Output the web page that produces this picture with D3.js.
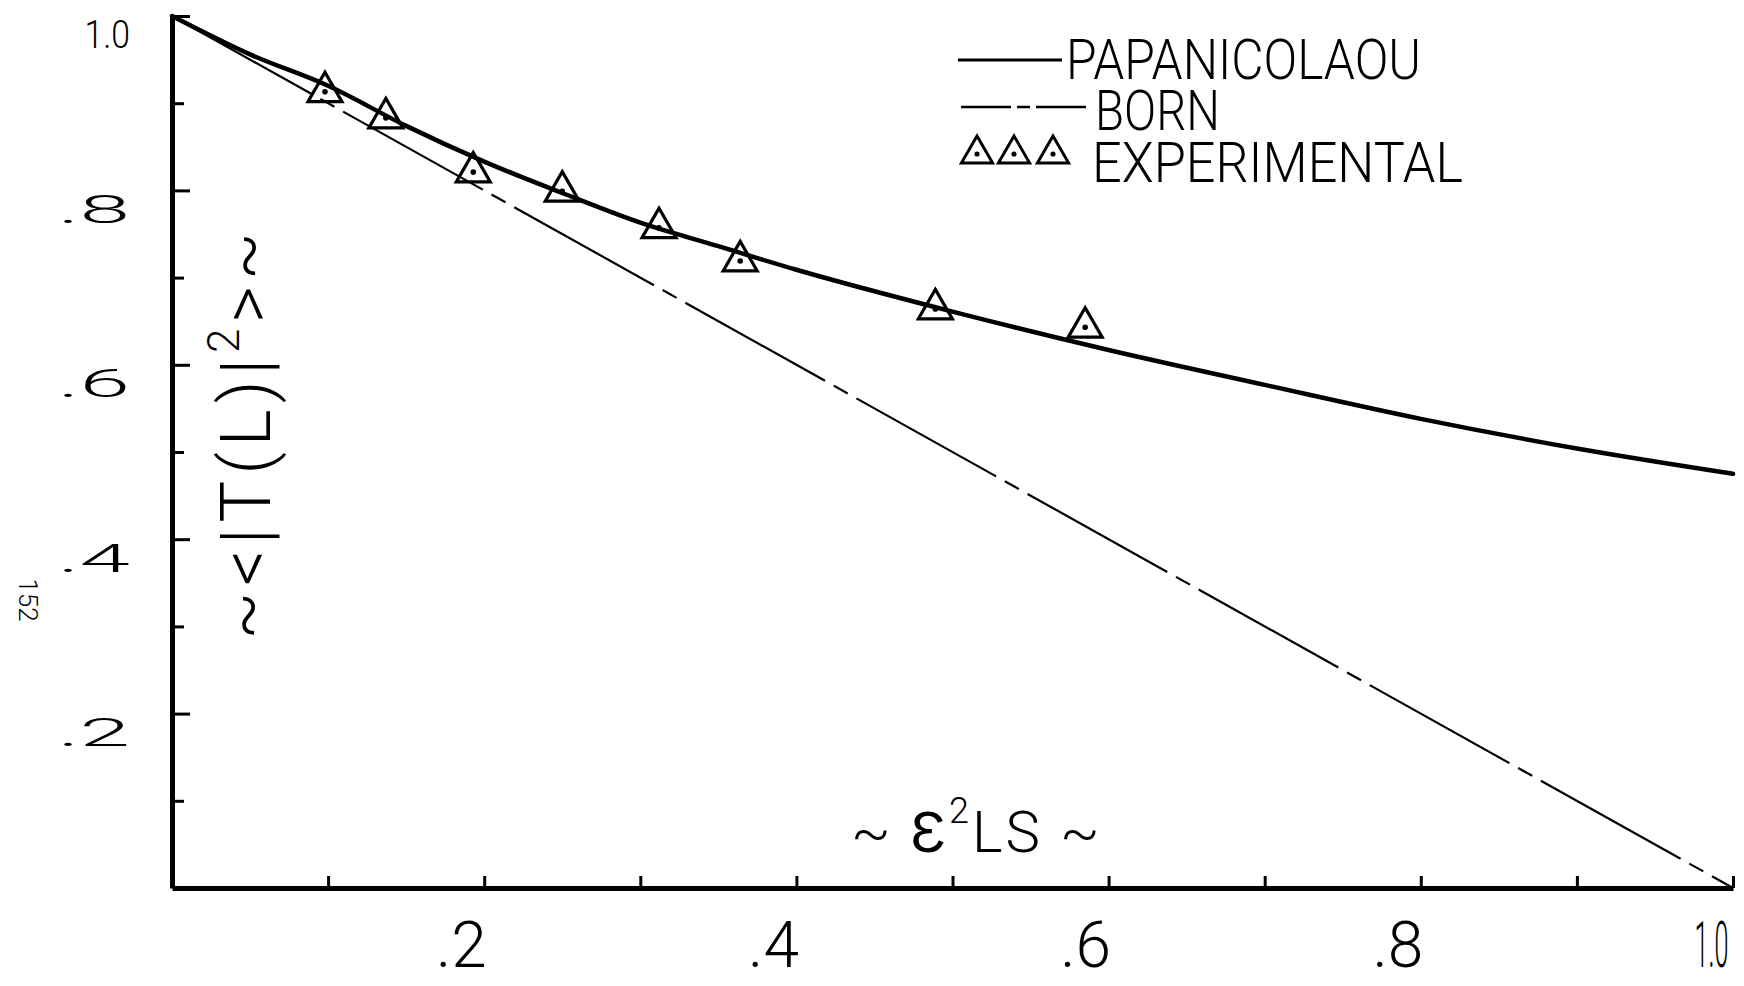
<!DOCTYPE html>
<html>
<head>
<meta charset="utf-8">
<title>Transmission vs epsilon^2 LS</title>
<script src="https://cdn.jsdelivr.net/npm/d3@7"></script>
<style>
  html, body { margin: 0; padding: 0; background: #fff; }
  svg { display: block; background: #fff; }
  text { font-family: Roboto, "Liberation Sans", "DejaVu Sans", sans-serif; font-weight: 300; fill: #000; }
</style>
</head>
<body>
<div id="chart"></div>
<script>

// Papanicolaou theory curve
const pap_x = [0, 0.05, 0.1, 0.15, 0.2, 0.25, 0.3, 0.35, 0.4, 0.5, 0.6, 0.7, 0.8, 0.9, 1.0];
const pap_y = [1.0, 0.956, 0.92, 0.874, 0.833, 0.797, 0.763, 0.736, 0.709, 0.661, 0.617, 0.577, 0.538, 0.504, 0.475];

// Born approximation
const born_x = [0, 1.0];
const born_y = [1.0, 0];

// experimental points
const exp_x = [0.098, 0.137, 0.193, 0.250, 0.312, 0.364, 0.489, 0.585];
const exp_y = [0.913, 0.883, 0.821, 0.799, 0.757, 0.719, 0.664, 0.643];

// axes
const tick_values = [0.1, 0.2, 0.3, 0.4, 0.5, 0.6, 0.7, 0.8, 0.9, 1.0];
const x_label_values = [0.2, 0.4, 0.6, 0.8, 1.0];
const x_tick_labels = [".2", ".4", ".6", ".8", "1.0"];
const y_label_values = [1.0, 0.8, 0.6, 0.4, 0.2];
const y_tick_labels = ["1.0", ".8", ".6", ".4", ".2"];

const series_names = ["PAPANICOLAOU", "BORN", "EXPERIMENTAL"];


const width = 1744;
const height = 986;
const margin = {"top": 16, "right": 11, "bottom": 98, "left": 172};

const svg = d3.select("#chart")
  .append("svg")
  .attr("width", width)
  .attr("height", height)
  .attr("viewBox", [0, 0, width, height]);

const x = d3.scaleLinear()
  .domain([0, 1])
  .range([margin.left, width - margin.right]);

const y = d3.scaleLinear()
  .domain([0, 1])
  .range([height - margin.bottom, margin.top]);

function label_for(values, labels) {
  return d => {
    const i = values.findIndex(v => Math.abs(v - d) < 1e-9);
    return i < 0 ? "" : labels[i];
  };
}

// x axis, ticks point inwards
svg.append("g")
  .attr("transform", `translate(0,${height - margin.bottom})`)
  .call(d3.axisBottom(x)
    .tickValues(tick_values)
    .tickSize(-12)
    .tickSizeOuter(0)
    .tickPadding(34)
    .tickFormat(label_for(x_label_values, x_tick_labels)))
  .call(g => g.attr("font-family", null).attr("font-size", 64))
  .call(g => g.select(".domain").attr("stroke-width", 5))
  .call(g => g.selectAll(".tick line").attr("stroke-width", 3))
  .call(g => g.selectAll(".tick text")
    .attr("text-anchor", "end")
    .attr("x", 2)
    .filter(d => label_for(x_label_values, x_tick_labels)(d) === "1.0")
    .attr("x", -5)
    .attr("textLength", 34)
    .attr("lengthAdjust", "spacingAndGlyphs"));

// y axis, labels squat and sitting a little below their ticks
svg.append("g")
  .attr("transform", `translate(${margin.left},0)`)
  .call(d3.axisLeft(y)
    .tickValues(tick_values)
    .tickSize(-12)
    .tickSizeOuter(0)
    .tickFormat(label_for(y_label_values, y_tick_labels)))
  .call(g => g.attr("font-family", null).attr("font-size", 70))
  .call(g => g.select(".domain").attr("stroke-width", 5))
  .call(g => g.selectAll(".tick line")
    .attr("stroke-width", 3)
    .attr("x2", d => y_label_values.some(v => Math.abs(v - d) < 1e-9) ? 18 : 12))
  .call(g => g.selectAll(".tick text")
    .attr("x", 0)
    .attr("dy", "0.36em")
    .attr("font-weight", 400)
    .attr("transform", "translate(-42,18) scale(1.3,0.55)")
    .filter(d => label_for(y_label_values, y_tick_labels)(d) === "1.0")
    .attr("textLength", 35)
    .attr("lengthAdjust", "spacingAndGlyphs"));

// curves
const line = d3.line()
  .x(d => x(d[0]))
  .y(d => y(d[1]));

svg.append("path")
  .datum(d3.zip(born_x, born_y))
  .attr("d", line)
  .attr("fill", "none")
  .attr("stroke", "#000")
  .attr("stroke-width", 2.2)
  .attr("stroke-dasharray", "160 10 16 10");

svg.append("path")
  .datum(d3.zip(pap_x, pap_y))
  .attr("d", line.curve(d3.curveMonotoneX))
  .attr("fill", "none")
  .attr("stroke", "#000")
  .attr("stroke-width", 4.5)
  .attr("stroke-linecap", "round")
  .attr("stroke-linejoin", "round");

// experimental triangles with a dot in the middle
const triangle = d3.symbol(d3.symbolTriangle, 500);

function draw_marker(g) {
  g.append("path")
    .attr("d", triangle)
    .attr("fill", "none")
    .attr("stroke", "#000")
    .attr("stroke-width", 3.2)
    .attr("stroke-linejoin", "miter");
  g.append("circle")
    .attr("r", 2.8)
    .attr("fill", "#000");
}

svg.append("g")
  .selectAll("g")
  .data(d3.zip(exp_x, exp_y))
  .join("g")
    .attr("transform", d => `translate(${x(d[0])},${y(d[1])})`)
    .each(function() { draw_marker(d3.select(this)); });

// legend
const legend = svg.append("g");

legend.append("line")
  .attr("x1", 958).attr("x2", 1062)
  .attr("y1", 60).attr("y2", 60)
  .attr("stroke", "#000")
  .attr("stroke-width", 3);

legend.append("line")
  .attr("x1", 961).attr("x2", 1090)
  .attr("y1", 107).attr("y2", 107)
  .attr("stroke", "#000")
  .attr("stroke-width", 2.5)
  .attr("stroke-dasharray", "50 6 13 6");

legend.selectAll("g.mk")
  .data([977, 1014, 1053])
  .join("g")
    .attr("class", "mk")
    .attr("transform", d => `translate(${d},154) scale(0.92)`)
    .each(function() { draw_marker(d3.select(this)); });

legend.selectAll("text")
  .data(series_names)
  .join("text")
    .attr("x", (d, i) => [1066, 1095, 1092][i])
    .attr("y", (d, i) => [79, 130, 182][i])
    .attr("font-size", 56)
    .attr("textLength", (d, i) => [355, 125, 371][i])
    .attr("lengthAdjust", "spacingAndGlyphs")
    .text(d => d);

// axis titles
const y_title = svg.append("text")
  .attr("transform", "translate(270,433) rotate(-90)")
  .attr("text-anchor", "middle")
  .attr("font-size", 70)
  .attr("letter-spacing", 6);
y_title.append("tspan").text("~<|T(L)|");
y_title.append("tspan").attr("font-size", 44).attr("dy", "-0.7em").text("2");
y_title.append("tspan").attr("dy", "0.45em").text(">~");

const x_title = svg.append("text")
  .attr("x", 851)
  .attr("y", 852)
  .attr("font-size", 58)
  .attr("letter-spacing", 3);
x_title.append("tspan").text("~ Ɛ");
x_title.append("tspan").attr("font-size", 36).attr("dy", "-0.8em").text("2");
x_title.append("tspan").attr("dy", "0.5em").text("LS ~");

// page number in the margin
svg.append("text")
  .attr("transform", "translate(19,600) rotate(90)")
  .attr("text-anchor", "middle")
  .attr("font-size", 26)
  .attr("font-weight", 700)
  .text("152");

</script>
</body>
</html>
